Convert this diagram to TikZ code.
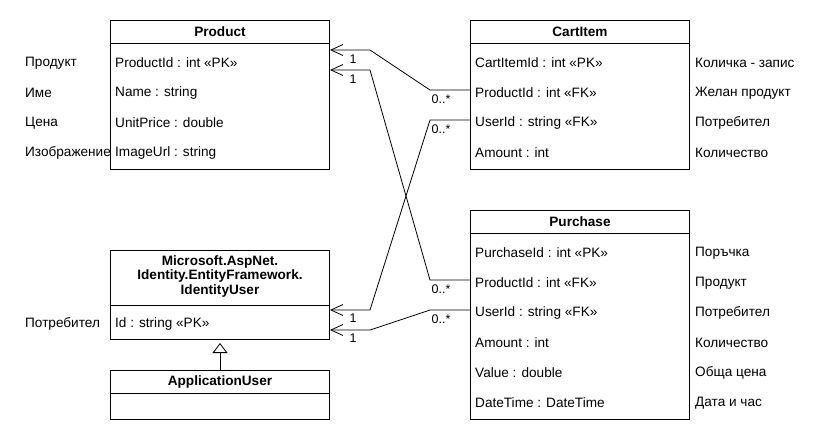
\documentclass[tikz,border=0pt]{standalone}
\usepackage{fontspec}
\setmainfont{Liberation Sans}
\usetikzlibrary{arrows.meta}
\begin{document}
\begin{tikzpicture}[x=1pt,y=-1pt,
  font=\fontsize{13.6}{16}\selectfont,
  box/.style={draw, line width=1pt, fill=white, anchor=north west, inner sep=0pt},
  attr/.style={anchor=west, inner sep=0pt},
  note/.style={anchor=west, inner sep=0pt},
  head/.style={inner sep=0pt, font=\fontsize{13.6}{16}\selectfont\bfseries},
  mult/.style={inner sep=0pt, font=\fontsize{12.5}{14}\selectfont},
  assoc/.style={draw, line width=0.8pt, -{Straight Barb[length=12pt,width=11pt,line width=0.8pt]}},
  inherit/.style={draw, line width=0.8pt, -{Triangle[open,length=10pt,width=15pt,line width=0.8pt]}, shorten >=3pt}
]
\useasboundingbox (0,0) rectangle (830,440);
\fill[white] (0,0) rectangle (830,440);

% left notes
\node[note] (n1) at (25,63) {Продукт};
\node[note] (n2) at (25,93) {Име};
\node[note] (n3) at (25,123) {Цена};
\node[note] (n4) at (25,153) {Изображение};
\node[note] (n5) at (25,324) {Потребител};

% Product
\node[box, minimum width=219pt, minimum height=149pt] (product) at (110,20) {};
\draw[line width=1pt] (110,43) -- (329,43);
\node[head] (ph) at (220,32) {Product};
\node[attr] (p1) at (115,63) {ProductId : int «PK»};
\node[attr] (p2) at (115,93) {Name : string};
\node[attr] (p3) at (115,123) {UnitPrice : double};
\node[attr] (p4) at (115,153) {ImageUrl : string};

% CartItem
\node[box, minimum width=219pt, minimum height=149pt] (cart) at (470,20) {};
\draw[line width=1pt] (470,43) -- (689,43);
\node[head] (ch) at (580,32) {CartItem};
\node[attr] (c1) at (475,63) {CartItemId : int «PK»};
\node[attr] (c2) at (475,93) {ProductId : int «FK»};
\node[attr] (c3) at (475,123) {UserId : string «FK»};
\node[attr] (c4) at (475,153) {Amount : int};
\node[note] (cn1) at (695,63) {Количка - запис};
\node[note] (cn2) at (695,93) {Желан продукт};
\node[note] (cn3) at (695,123) {Потребител};
\node[note] (cn4) at (695,153) {Количество};

% Identity user
\node[box, minimum width=219pt, minimum height=89pt] (ident) at (110,250) {};
\draw[line width=1pt] (110,305) -- (329,305);
\node[head, align=center] (ih) at (220,276) {Microsoft.AspNet.\\[-1.5pt]Identity.EntityFramework.\\[-1.5pt]IdentityUser};
\node[attr] (i1) at (115,324) {Id : string «PK»};

% ApplicationUser
\node[box, minimum width=219pt, minimum height=49pt] (appuser) at (110,370) {};
\draw[line width=1pt] (110,393) -- (329,393);
\node[head] (ah) at (220,382) {ApplicationUser};

% Purchase
\node[box, minimum width=219pt, minimum height=209pt] (purchase) at (470,210) {};
\draw[line width=1pt] (470,233) -- (689,233);
\node[head] (puh) at (580,222) {Purchase};
\node[attr] (u1) at (475,253) {PurchaseId : int «PK»};
\node[attr] (u2) at (475,283) {ProductId : int «FK»};
\node[attr] (u3) at (475,313) {UserId : string «FK»};
\node[attr] (u4) at (475,343) {Amount : int};
\node[attr] (u5) at (475,373) {Value : double};
\node[attr] (u6) at (475,403) {DateTime : DateTime};
\node[note] (un1) at (695,253) {Поръчка};
\node[note] (un2) at (695,283) {Продукт};
\node[note] (un3) at (695,313) {Потребител};
\node[note] (un4) at (695,343) {Количество};
\node[note] (un5) at (695,373) {Обща цена};
\node[note] (un6) at (695,403) {Дата и час};

% connectors
\draw[assoc] (cart.west |- 0,90) -- (430,90) -- (370,50) -- (product.east |- 0,50);
\draw[assoc] (cart.west |- 0,120) -- (430,120) -- (370,310) -- (ident.east |- 0,310);
\draw[assoc] (purchase.west |- 0,280) -- (430,280) -- (370,70) -- (product.east |- 0,70);
\draw[assoc] (purchase.west |- 0,310) -- (430,310) -- (370,330) -- (ident.east |- 0,330);
\draw[inherit] (appuser.north) -- (ident.south);

% multiplicities
\node[mult] (m1) at (353,59) {1};
\node[mult] (m2) at (353,79) {1};
\node[mult] (m3) at (353,318) {1};
\node[mult] (m4) at (353,338) {1};
\node[mult] (m5) at (441,99) {0..*};
\node[mult] (m6) at (441,129) {0..*};
\node[mult] (m7) at (441,289) {0..*};
\node[mult] (m8) at (441,319) {0..*};
\end{tikzpicture}
\end{document}
